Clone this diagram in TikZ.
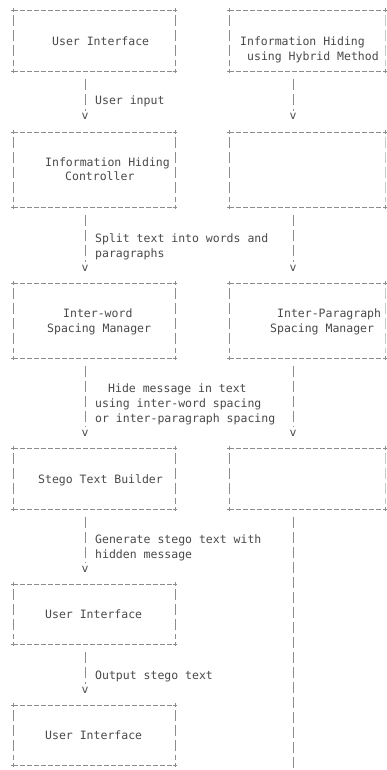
\documentclass[tikz,border=0pt]{standalone}
\usepackage{fontspec}
\setmonofont{DejaVu Sans Mono}
\usetikzlibrary{arrows.meta}
\definecolor{txtgray}{HTML}{4A4A4A}
\definecolor{lngray}{HTML}{8C8C8C}
\definecolor{faintgray}{HTML}{C8C8C8}
\newcommand\asciibox[2]{%
  \draw[hdash] (#1.north west) -- (#1.north east);
  \draw[hdash] (#1.south west) -- (#1.south east);
  \draw[vdash] ([yshift=-5pt]#1.north west) -- ([yshift=5pt]#1.south west);
  \draw[vdash,draw=#2] ([yshift=-5pt]#1.north east) -- ([yshift=5pt]#1.south east);
  \foreach \a in {north west,north east,south west,south east}
    \draw[plusmark] (#1.\a) +(-2.2,0) -- +(2.2,0) +(0,-2.2) -- +(0,2.2);
}
\begin{document}
\begin{tikzpicture}[x=1pt,y=-1pt,
  txt/.style={font=\ttfamily\fontsize{11.5}{13}\selectfont, text=txtgray, anchor=base west, inner sep=0pt},
  arrowv/.style={font=\ttfamily\fontsize{11.5}{13}\selectfont, text=txtgray, anchor=base, inner sep=0pt},
  boxst/.style={draw=none, anchor=north west, inner sep=0pt, outer sep=0pt},
  hdash/.style={draw=lngray, line width=0.7pt, dash pattern=on 4.5pt off 2.5pt},
  vdash/.style={draw=lngray, line width=0.7pt, dash pattern=on 11pt off 4pt},
  plusmark/.style={draw=lngray, line width=0.7pt},
  vline/.style={draw=lngray, line width=0.7pt, dash pattern=on 11pt off 4pt}]
\useasboundingbox (0,0) rectangle (387,770);
\fill[white] (0,0) rectangle (387,770);

% left boxes
\node[boxst, minimum width=162pt, minimum height=61pt] (b1) at (13,10) {};
\node[boxst, minimum width=162pt, minimum height=75pt] (b2) at (13,132) {};
\node[boxst, minimum width=162pt, minimum height=75pt] (b3) at (13,283) {};
\node[boxst, minimum width=162pt, minimum height=61pt] (b4) at (13,448) {};
\node[boxst, minimum width=162pt, minimum height=60pt] (b5) at (13,584) {};
\node[boxst, minimum width=162pt, minimum height=60pt] (b6) at (13,705) {};
% right boxes
\node[boxst, minimum width=156pt, minimum height=61pt] (r1) at (229,10) {};
\node[boxst, minimum width=156pt, minimum height=75pt] (r2) at (229,132) {};
\node[boxst, minimum width=156pt, minimum height=75pt] (r3) at (229,283) {};
\node[boxst, minimum width=156pt, minimum height=61pt] (r4) at (229,448) {};
\foreach \b in {b1,b2,b3,b4,b5,b6} {\asciibox{\b}{lngray}}
\foreach \b in {r1,r2,r3,r4} {\asciibox{\b}{faintgray}}

% box texts
\node[txt] (t1) at (52,46) {User Interface};
\node[txt] (t2a) at (45,167) {Information Hiding};
\node[txt] (t2b) at (65,181) {Controller};
\node[txt] (t3a) at (63,317) {Inter-word};
\node[txt] (t3b) at (47,332) {Spacing Manager};
\node[txt] (t4) at (38,483) {Stego Text Builder};
\node[txt] (t5) at (45,618) {User Interface};
\node[txt] (t6) at (45,739) {User Interface};
\node[txt] (u1a) at (240,46) {Information Hiding};
\node[txt] (u1b) at (247,61) {using Hybrid Method};
\node[txt] (u3a) at (277,317) {Inter-Paragraph};
\node[txt] (u3b) at (270,332) {Spacing Manager};

% arrowheads (v)
\node[arrowv] (v1) at (85,120) {v};
\node[arrowv] (v2) at (85,271) {v};
\node[arrowv] (v3) at (85,436) {v};
\node[arrowv] (v4) at (85,572) {v};
\node[arrowv] (v5) at (85,693) {v};
\node[arrowv] (w1) at (293,120) {v};
\node[arrowv] (w2) at (293,271) {v};
\node[arrowv] (w3) at (293,436) {v};
\coordinate (wend) at (293,770);

% connectors
\foreach \a/\v in {b1/v1,b2/v2,b3/v3,b4/v4,b5/v5,r1/w1,r2/w2,r3/w3}
  \draw[vline] ([yshift=-8pt]\a.south -| \v.north) -- ([yshift=3pt]\v.north);
\draw[vline] ([yshift=-8pt]r4.south -| wend) -- (wend);

% connector labels
\node[txt] (l1) at (95,105) {User input};
\node[txt] (l2a) at (95,242) {Split text into words and};
\node[txt] (l2b) at (95,257) {paragraphs};
\node[txt] (l3a) at (108,392) {Hide message in text};
\node[txt] (l3b) at (95,407) {using inter-word spacing};
\node[txt] (l3c) at (95,422) {or inter-paragraph spacing};
\node[txt] (l4a) at (95,543) {Generate stego text with};
\node[txt] (l4b) at (95,558) {hidden message};
\node[txt] (l5) at (95,679) {Output stego text};
\end{tikzpicture}
\end{document}
